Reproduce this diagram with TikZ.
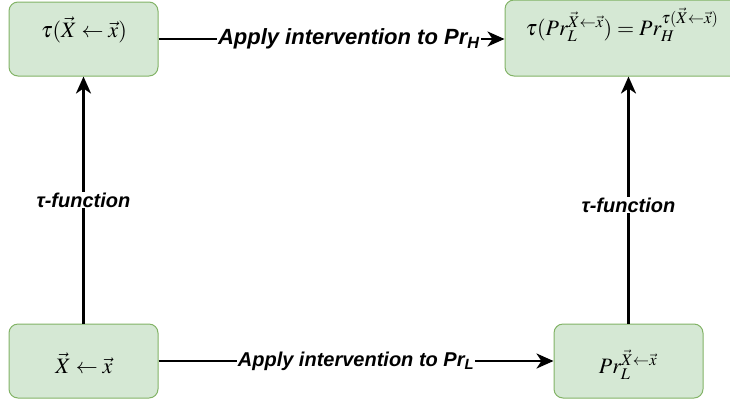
\documentclass[tikz,border=0pt]{standalone}
\usepackage{mathptmx}
\usepackage{fontspec}
\setmainfont{Liberation Serif}
\setsansfont{Liberation Sans}
\usetikzlibrary{arrows.meta}
\definecolor{boxfill}{HTML}{D5E8D4}
\definecolor{boxline}{HTML}{82B366}
\begin{document}
\begin{tikzpicture}[x=1pt,y=-1pt,
  state/.style={draw=boxline, fill=boxfill, line width=1pt, rounded corners=9pt,
    minimum width=149pt, minimum height=74pt, inner sep=0pt},
  formula/.style={anchor=base, inner sep=0pt, font=\fontsize{22}{26}\selectfont},
  link/.style={line width=2.6pt, -{Stealth[length=17pt,width=15pt,inset=5pt]}},
  tag/.style={fill=white, inner sep=1pt, font=\sffamily\bfseries\itshape\fontsize{20}{24}\selectfont}]
\useasboundingbox (0,0) rectangle (730,400);
\clip (0,0) rectangle (730,400);

% the four states
\node[state] (tl) at (83.5,39) {};
\node[state, minimum width=236pt, minimum height=76pt] (tr) at (623,38) {};
\node[state] (bl) at (83.5,361) {};
\node[state] (br) at (628.5,361) {};

\node[formula] (tltext) at (84,37) {$\tau(\vec{X}\leftarrow\vec{x})$};
\node[formula] (trtext) at (622,35) {$\tau(Pr_L^{\vec{X}\leftarrow\vec{x}}) = Pr_H^{\tau(\vec{X}\leftarrow\vec{x})}$};
\node[formula] (bltext) at (84,373) {$\vec{X}\leftarrow\vec{x}$};
\node[formula] (brtext) at (628,373) {$Pr_L^{\vec{X}\leftarrow\vec{x}}$};

% transitions
\draw[link] (tl.east) -- node[tag, pos=0.55, font=\sffamily\bfseries\itshape\fontsize{22}{26}\selectfont] (toptag) {Apply intervention to Pr\textsubscript{H}} (tr.west |- tl.east);
\draw[link] (bl.east) -- node[tag, pos=0.5] (bottag) {Apply intervention to Pr\textsubscript{L}} (br.west);
\draw[link] (bl.north) -- node[tag, pos=0.5] (lefttag) {τ-function} (tl.south);
\draw[link] (br.north) -- node[tag, pos=0.48] (righttag) {τ-function} (br.north |- tr.south);
\end{tikzpicture}
\end{document}
